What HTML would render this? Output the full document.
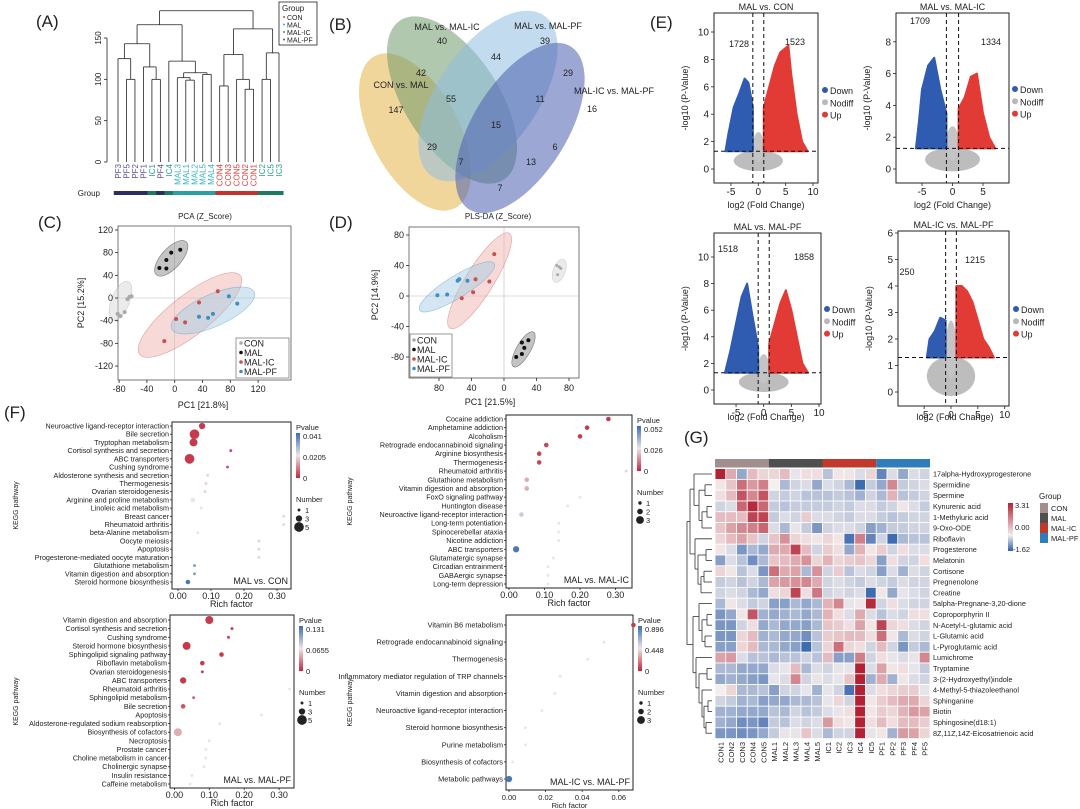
<!DOCTYPE html>
<html><head><meta charset="utf-8"><style>
body{margin:0;background:#fff;}
svg{display:block;font-family:"Liberation Sans",sans-serif;}
text{fill:#222;}
</style></head><body>
<svg id="fig" width="1080" height="809" viewBox="0 0 1080 809"></svg>
<script>
// ===== DATA =====
const dendLeaves=["PF3","PF5","PF2","PF1","IC1","PF4","IC4","MAL3","MAL1","MAL2","MAL5","MAL4","CON4","CON3","CON5","CON2","CON1","IC2","IC5","IC3"];
const pcaGroups=["CON","MAL","MAL-IC","MAL-PF"];
const pcaX=[[-82,-78,-72,-68,-65,-62],[-22,-12,-12,-5,8],[-15,2,15,35,62],[35,48,55,78,90]];
const pcaY=[[-28,-32,-25,-2,2,3],[53,52,67,80,85],[-76,-37,-43,-8,12],[-33,-35,-28,3,-10]];
const plsX=[[65,68,70,66],[15,22,25,22,30],[-52,-38,-35,-18,-12],[-82,-70,-57,-55,-45]];
const plsY=[[40,38,36,28],[-80,-76,-68,-61,-58],[-3,5,22,19,55],[1,2,20,22,20]];
const plsGroupIdx=[0,1,2,3];
const volTitles=["MAL vs. CON","MAL vs. MAL-IC","MAL vs. MAL-PF","MAL-IC vs. MAL-PF"];
const volDown=[1728,1709,1518,250];
const volUp=[1523,1334,1858,1215];
const volBlue=[
 [[-1,1.3],[-1,4.5],[-1.8,6.3],[-2.5,6.6],[-3.5,5.5],[-4.5,4.5],[-5.5,2.5],[-6,1.3]],
 [[-1,1.3],[-1,3.5],[-2,5],[-3,7],[-4,6.5],[-5,5],[-5.5,3],[-6,1.3]],
 [[-1,1.3],[-1,3.2],[-2,5.5],[-3,8],[-4,7],[-5,5],[-6,3],[-7,1.3]],
 [[-1,1.3],[-1,2.7],[-2,2.8],[-3,2.3],[-4,2],[-4.5,1.3]]];
const volRed=[
 [[1,1.3],[1,4.5],[2,6],[3,7.5],[4,8.5],[5.5,9],[6,7],[7,4],[8,2],[9,1.3]],
 [[1,1.3],[1,3.8],[2,4.5],[3,5.8],[4,6],[5,3.5],[6,2],[7,1.3]],
 [[1,1.3],[1,3.5],[2,5],[3,6.5],[4,7.5],[5,6],[6,4],[7,2],[8,1.3]],
 [[1,1.3],[1,4],[2,4],[3,3.8],[4,3.4],[5,2.7],[6,2],[7,1.7],[8,1.3]]];
const volXTicks=[[-5,0,5,10],[-5,0,5],[-5,0,5,10],[-5,0,5,10]];
const volYTicks=[[0,2,4,6,8,10],[0,2,4,6,8],[0,2,4,6,8,10],[0,1,2,3,4,5,6]];
const f1Paths=["Neuroactive ligand-receptor interaction","Bile secretion","Tryptophan metabolism","Cortisol synthesis and secretion","ABC transporters","Cushing syndrome","Aldosterone synthesis and secretion","Thermogenesis","Ovarian steroidogenesis","Arginine and proline metabolism","Linoleic acid metabolism","Breast cancer","Rheumatoid arthritis","beta-Alanine metabolism","Oocyte meiosis","Apoptosis","Progesterone-mediated oocyte maturation","Glutathione metabolism","Vitamin digestion and absorption","Steroid hormone biosynthesis"];
const f1Rich=[0.073,0.05,0.047,0.16,0.035,0.15,0.09,0.085,0.082,0.045,0.07,0.32,0.32,0.06,0.245,0.245,0.245,0.05,0.05,0.03];
const f1P=[0.05,0.05,0.05,0.1,0.05,0.1,0.45,0.45,0.45,0.5,0.5,0.55,0.55,0.5,0.55,0.55,0.55,0.8,0.8,0.95];
const f1N=[3,5,4,1,5,1,1,1,1,2,1,1,1,1,1,1,1,1,1,2];
const f2Paths=["Cocaine addiction","Amphetamine addiction","Alcoholism","Retrograde endocannabinoid signaling","Arginine biosynthesis","Thermogenesis","Rheumatoid arthritis","Glutathione metabolism","Vitamin digestion and absorption","FoxO signaling pathway","Huntington disease","Neuroactive ligand-receptor interaction","Long-term potentiation","Spinocerebellar ataxia","Nicotine addiction","ABC transporters","Glutamatergic synapse","Circadian entrainment","GABAergic synapse","Long-term depression"];
const f2Rich=[0.28,0.22,0.2,0.105,0.085,0.085,0.33,0.05,0.05,0.2,0.165,0.035,0.14,0.14,0.14,0.02,0.125,0.11,0.11,0.11];
const f2P=[0.05,0.05,0.05,0.08,0.08,0.08,0.45,0.35,0.35,0.5,0.5,0.6,0.5,0.5,0.5,0.95,0.5,0.5,0.5,0.5];
const f2N=[2,2,2,2,2,2,1,2,2,1,1,2,1,1,1,3,1,1,1,1];
const f3Paths=["Vitamin digestion and absorption","Cortisol synthesis and secretion","Cushing syndrome","Steroid hormone biosynthesis","Sphingolipid signaling pathway","Riboflavin metabolism","Ovarian steroidogenesis","ABC transporters","Rheumatoid arthritis","Sphingolipid metabolism","Bile secretion","Apoptosis","Aldosterone-regulated sodium reabsorption","Biosynthesis of cofactors","Necroptosis","Prostate cancer","Choline metabolism in cancer","Cholinergic synapse","Insulin resistance","Caffeine metabolism"];
const f3Rich=[0.1,0.165,0.155,0.035,0.135,0.08,0.08,0.025,0.33,0.055,0.025,0.25,0.13,0.01,0.1,0.09,0.09,0.085,0.05,0.045];
const f3P=[0.05,0.05,0.05,0.05,0.05,0.05,0.05,0.05,0.5,0.15,0.12,0.5,0.5,0.35,0.5,0.5,0.5,0.5,0.5,0.5];
const f3N=[4,1,1,4,2,2,1,3,1,1,2,1,1,4,1,1,1,1,1,1];
const f4Paths=["Vitamin B6 metabolism","Retrograde endocannabinoid signaling","Thermogenesis","Inflammatory mediator regulation of TRP channels","Vitamin digestion and absorption","Neuroactive ligand-receptor interaction","Steroid hormone biosynthesis","Purine metabolism","Biosynthesis of cofactors","Metabolic pathways"];
const f4Rich=[0.068,0.052,0.043,0.028,0.025,0.018,0.009,0.009,0.002,0.0];
const f4P=[0.05,0.5,0.5,0.5,0.5,0.5,0.5,0.5,0.5,0.95];
const f4N=[2,1,1,1,1,1,1,1,1,3];
const hmRows=["17alpha-Hydroxyprogesterone","Spermidine","Spermine","Kynurenic acid","1-Methyluric acid","9-Oxo-ODE","Riboflavin","Progesterone","Melatonin","Cortisone","Pregnenolone","Creatine","5alpha-Pregnane-3,20-dione","Coproporphyrin II","N-Acetyl-L-glutamic acid","L-Glutamic acid","L-Pyroglutamic acid","Lumichrome","Tryptamine","3-(2-Hydroxyethyl)indole","4-Methyl-5-thiazoleethanol","Sphinganine","Biotin","Sphingosine(d18:1)","8Z,11Z,14Z-Eicosatrienoic acid"];
const hmCols=["CON1","CON2","CON3","CON4","CON5","MAL1","MAL2","MAL3","MAL4","MAL5","IC1","IC2","IC3","IC4","IC5","PF1","PF2","PF3","PF4","PF5"];
const hmVals=[
[2.5,0.8,-0.8,0.6,0.3,0.3,0.6,-0.1,0.2,0.2,-0.5,0.1,0.1,-0.2,0.3,-1.2,-0.2,-0.8,-0.2,-0.3],
[0.1,0.5,1.5,1.0,1.3,0,-0.6,-0.3,-0.2,-0.8,-0.2,-0.3,-0.6,-1.5,-0.4,-0.8,1.2,-0.4,-0.3,-0.2],
[0.2,0.6,1.8,1.2,1.8,-0.3,-0.4,-0.3,-0.5,-0.5,-0.5,-0.4,-0.5,-0.7,-0.3,-0.6,0.7,-0.5,-0.4,-0.3],
[-0.3,-0.2,1.6,2.3,1.6,-0.4,-0.5,-0.4,-0.4,-0.4,-0.4,-0.3,-0.4,-0.2,-0.2,-0.4,-0.3,0.1,-0.2,-0.4],
[0.6,0.6,0.6,2.0,2.0,-0.4,-0.2,-0.3,0.4,-0.2,-0.2,-0.3,-0.4,-0.2,-0.2,-0.4,-0.5,-0.4,-0.3,-0.3],
[0.5,0.9,1.2,1.3,1.6,-0.2,-0.6,-0.1,-0.4,-1.0,-0.3,-0.2,-0.2,-0.3,-0.9,-0.7,-0.4,-0.4,-0.3,-0.3],
[0.3,0.6,0.9,0.5,-0.3,0.5,1.1,0.3,0.2,0.1,0.3,0.1,-1.4,1.3,-1.2,-0.3,-1.5,-0.6,-0.5,-0.5],
[0.1,-0.2,-1.0,-0.6,-0.8,0.8,0.8,2.0,0.6,-0.3,0.4,0.2,-0.8,0.7,0.1,0.4,-0.3,0.2,-0.2,-0.2],
[-0.9,-0.2,-0.5,-1.1,-0.6,0.5,0.6,0.8,1.1,0.3,0.7,0.3,0.4,0.5,0.3,-0.9,0.2,-0.3,-0.3,0.2],
[0.3,0.1,-0.5,-0.2,-1.0,1.5,0.8,0.9,-0.6,1.1,-0.3,0.4,-0.5,-0.2,-0.3,-0.9,-0.2,-0.7,-0.2,-0.3],
[-0.4,-0.3,-0.5,-0.3,-0.6,0.9,1.0,1.1,1.2,0.8,-0.3,-0.2,-0.3,-0.4,-0.2,-0.3,-0.4,-0.2,-0.3,-0.3],
[-0.3,-0.2,-0.3,-0.6,-0.8,0.2,0.3,2.0,0.2,1.4,-0.3,-0.2,-0.3,-0.2,-1.5,0.1,-0.8,-0.1,-0.2,-0.3],
[-0.6,0.1,-0.2,-0.4,-0.3,-0.9,-0.9,-0.6,-0.8,-0.6,0.7,1.2,-0.1,0.1,2.3,-0.3,0.2,-0.2,-0.3,-0.3],
[-1.0,-0.8,0.1,1.8,-0.7,-0.8,-0.7,-0.6,-0.8,-0.6,0.7,0.2,-0.2,0.8,-0.2,-0.5,-0.2,-0.3,0.2,0.2],
[-1.0,-1.0,-0.3,0.2,-0.8,-0.6,-0.8,-0.8,-0.9,-0.6,0.5,0.4,0.2,0.9,0.1,2.0,0.3,0.2,-0.2,-0.3],
[-1.0,-1.0,0.3,0.6,-0.7,-0.6,-0.8,-0.8,-1.1,-0.5,0.4,0.5,0.6,0.6,0.2,1.5,0.1,-0.6,-0.2,-0.3],
[-0.9,-0.9,0.3,0.6,-0.6,-0.6,-0.8,-0.9,-1.5,-0.5,0.3,1.5,0.3,0.2,-0.3,0.6,-0.3,-1.0,-0.4,-0.6],
[0.9,1.0,-0.2,-0.5,-0.5,-0.6,-0.5,-0.5,-0.3,-0.5,0.6,-0.9,-0.9,1.3,-0.3,0.2,-0.1,-0.2,-0.1,1.2],
[-0.6,-0.6,-0.8,-0.8,-0.8,-0.2,-0.1,0.6,-0.6,-0.2,-0.3,-0.1,-0.1,3.3,-0.2,0.9,0.1,0.2,-0.1,-0.4],
[-0.8,-0.7,-0.8,-0.9,-1.0,-0.1,-0.2,1.2,-0.3,-0.1,-0.2,-0.1,0.5,2.8,-0.7,0.8,-0.7,0.1,-0.2,-0.3],
[0.0,0.3,-0.6,-0.6,-0.5,-0.9,-0.3,-0.3,-0.1,-0.7,-0.1,-0.3,-1.4,3.0,-0.2,0.2,0.3,0.4,0.4,-0.1],
[-0.3,-0.4,-0.7,-0.6,-0.9,-0.8,-0.8,-0.6,-0.6,-0.5,-0.1,0.3,-0.3,3.1,0.1,0.4,0.6,0.8,0.8,0.3],
[-0.7,-0.7,-0.8,-0.8,-0.8,-0.5,-0.6,-0.3,-0.5,-0.4,-0.2,-0.1,0.2,3.0,0.1,0.4,0.3,0.7,1.0,0.9],
[-0.7,-0.8,-1.1,-1.0,-1.2,-0.4,-0.5,-0.2,-0.3,-0.2,1.0,0.2,0.1,3.0,0.2,0.6,0.2,0.6,0.6,0.4],
[-1.0,-1.0,-1.1,-1.0,-0.8,-0.4,-0.1,-0.1,0.5,-0.2,-0.6,-0.3,-0.3,2.6,-0.1,0.1,-0.7,1.0,0.9,0.3]];
const hmGroups=["CON","MAL","MAL-IC","MAL-PF"];

// ===== HELPERS =====
const NS="http://www.w3.org/2000/svg";
const svg=document.getElementById('fig');
function mk(tag,attrs,parent,txt){const e=document.createElementNS(NS,tag);for(const k in attrs)e.setAttribute(k,attrs[k]);if(txt!==undefined)e.textContent=txt;(parent||svg).appendChild(e);return e;}
function grp(name,parent){const g=mk('g',{},parent);


return g;}
function txt(p,x,y,s,size,anchor,extra){const t=mk('text',Object.assign({x:x,y:y,'font-size':size||9,'text-anchor':anchor||'start'},extra||{}),p,s);return t;}
function lin(p,x1,y1,x2,y2,st,w,dash){return mk('line',{x1,y1,x2,y2,stroke:st||'#222','stroke-width':w||0.8,'stroke-dasharray':dash||'none'},p);}
function lerp(a,b,t){return a.map((v,i)=>Math.round(v+(b[i]-v)*t));}
function rgb(c){return 'rgb('+c.join(',')+')';}

[["(A)",36,27],["(B)",329,30],["(C)",38,228],["(D)",329,228],["(E)",650,28],["(F)",4,418],["(G)",684,443]].forEach(l=>{
 const t=txt(svg,l[1],l[2],l[0],17);
 
 
});

// ===== (A) DENDROGRAM =====
(function(){
 const g=grp('dendrogram-panel');
 const x0=118,dx=(279-118)/19,yH=h=>162-h*124/150;
 lin(g,107,38,107,162);
 [0,50,100,150].forEach(v=>{lin(g,104,yH(v),107,yH(v));txt(g,0,0,String(v),8,'middle',{transform:`translate(101,${yH(v)}) rotate(-90)`});});
 const nodes=[];
 dendLeaves.forEach((l,i)=>nodes.push({x:x0+i*dx,h:0}));
 function join(a,b,h){lin(g,a.x,yH(a.h),a.x,yH(h));lin(g,b.x,yH(b.h),b.x,yH(h));lin(g,a.x,yH(h),b.x,yH(h));return {x:(a.x+b.x)/2,h:h};}
 const L=nodes;
 const a=join(L[1],L[2],100),b=join(L[0],a,125),c=join(L[4],L[5],100),d=join(L[3],c,115),e=join(b,d,143);
 const gg=join(L[8],L[9],99),hh=join(L[7],gg,102),ii=join(L[10],L[11],106),j=join(hh,ii,108),k=join(L[6],j,122);
 const left=join(e,k,166);
 const m=join(L[12],L[13],92),n=join(L[15],L[16],88),o=join(L[14],n,100),p=join(m,o,130);
 const q=join(L[17],L[18],100),r=join(q,L[19],132),s=join(p,r,161);
 join(left,s,183);
 const col={PF:'#5b4f9e',IC:'#239e84',MAL:'#37b3bf',CON:'#e0403a'};
 dendLeaves.forEach((l,i)=>{const key=l.replace(/\d/g,'');const t=txt(g,0,0,l,8,'end',{transform:`translate(${x0+i*dx+3},164) rotate(-90)`,style:'fill:'+col[key]});
  
  
  mk('rect',{x:x0+i*dx-dx/2,y:191,width:dx+0.3,height:4,fill:{PF:'#2c2f5e',IC:'#1f7a63',MAL:'#2aa0a6',CON:'#c4332c'}[key]},g);});
 txt(g,100,196,'Group',8,'end');
 mk('rect',{x:279,y:2,width:38,height:43,fill:'#fff',stroke:'#222','stroke-width':0.8},g);
 txt(g,282,11,'Group',8);
 ['CON','MAL','MAL-IC','MAL-PF'].forEach((s,i)=>{mk('circle',{cx:284,cy:17+i*7.5,r:1,fill:['#e0403a','#37b3bf','#239e84','#5b4f9e'][i]},g);txt(g,287,20+i*7.5,s,7);});
})();

// ===== (B) VENN =====
(function(){
 const g=grp('venn-diagram');
 const E=[[415,132,86,44,62,'#e5b54a'],[452,100,95,47,57,'#6f9a6c'],[488,96,98,50,-55,'#8fbde0'],[520,128,96,47,-58,'#4a5fb0']];
 E.forEach((e,i)=>{const el=mk('ellipse',{cx:e[0],cy:e[1],rx:e[2],ry:e[3],transform:`rotate(${e[4]} ${e[0]} ${e[1]})`,fill:e[5],'fill-opacity':0.55},g);
  
  });
 const labels=[["CON vs. MAL",401,88],["MAL vs. MAL-IC",447,30],["MAL vs. MAL-PF",548,29],["MAL-IC vs. MAL-PF",614,94]];
 labels.forEach(l=>txt(g,l[1],l[2],l[0],9,'middle'));
 [["40",442,44],["44",496,60],["42",421,76],["55",451,102],["147",396,113],["15",496,128],["29",432,150],["7",461,165],["13",531,165],["7",500,191],["39",545,44],["29",568,76],["11",540,102],["16",592,112],["6",555,150]].forEach(n=>txt(g,n[1],n[2],n[0],9,'middle'));
})();

const grpCol=['#aaaaaa','#111111','#c8514b','#3f8fc4'];
const grpFill=['#d8d8d8','#8a8a8a','#efb3b0','#a8cde6'];
// ===== (C) PCA =====
(function(){
 const g=grp('pca-panel');
 const sx=v=>174.7+v*0.695, sy=v=>298-v*0.567;
 mk('rect',{x:118,y:226,width:173,height:154,fill:'#fff',stroke:'#555','stroke-width':0.8},g);
 lin(g,118,sy(0),291,sy(0),'#bbb',0.6);lin(g,sx(0),226,sx(0),380,'#bbb',0.6);
 [[-78,-5,30,9,-68],[-5,70,32,10,-48],[22,-30,92,20,-38],[55,-22,65,16,-24]].forEach((e,i)=>{
  mk('ellipse',{cx:sx(e[0]),cy:sy(e[1]),rx:e[2]*0.695,ry:e[3],transform:`rotate(${e[4]} ${sx(e[0])} ${sy(e[1])})`,fill:grpFill[i],'fill-opacity':0.5,stroke:grpCol[i],'stroke-opacity':0.5,'stroke-width':0.6},g);});
 pcaX.forEach((xs,gi)=>xs.forEach((v,i)=>{const c=mk('circle',{cx:sx(v),cy:sy(pcaY[gi][i]),r:2,fill:grpCol[gi]},g);
  
  }));
 [-80,-40,0,40,80,120].forEach(v=>{lin(g,sx(v),380,sx(v),383);txt(g,sx(v),392,String(v),9,'middle');});
 [120,80,40,0,-40,-80,-120].forEach(v=>{lin(g,115,sy(v),118,sy(v));txt(g,113,sy(v)+3,String(v),9,'end');});
 txt(g,205,219,'PCA (Z_Score)',8,'middle');
 txt(g,0,0,'PC2 [15.2%]',9,'middle',{transform:'translate(84,303) rotate(-90)'});
 txt(g,203,408,'PC1 [21.8%]',9,'middle');
 mk('rect',{x:236,y:338,width:53,height:40,fill:'#fff',stroke:'#555','stroke-width':0.6},g);
 pcaGroups.forEach((s,i)=>{mk('circle',{cx:241,cy:343+i*9.5,r:1.8,fill:grpCol[i]},g);txt(g,244,346.5+i*9.5,s,9);});
})();
// ===== (D) PLS-DA =====
(function(){
 const g=grp('plsda-panel');
 const sx=v=>504+v*0.8125, sy=v=>296-v*0.7625;
 mk('rect',{x:409,y:227,width:170,height:151,fill:'#fff',stroke:'#555','stroke-width':0.8},g);
 lin(g,409,sy(0),579,sy(0),'#bbb',0.6);lin(g,sx(0),227,sx(0),378,'#bbb',0.6);
 [[68,33,12,6,-70],[24,-70,20,7,-60],[-30,20,56,14,-58],[-58,12,44,11,-32]].forEach((e,i)=>{
  mk('ellipse',{cx:sx(e[0]),cy:sy(e[1]),rx:e[2],ry:e[3],transform:`rotate(${e[4]} ${sx(e[0])} ${sy(e[1])})`,fill:grpFill[i],'fill-opacity':0.5,stroke:grpCol[i],'stroke-opacity':0.5,'stroke-width':0.6},g);});
 plsX.forEach((xs,gi)=>xs.forEach((v,i)=>{const c=mk('circle',{cx:sx(v),cy:sy(plsY[gi][i]),r:gi==0?1.5:2,fill:grpCol[gi]},g);
  
  }));
 [-80,-40,0,40,80].forEach(v=>{lin(g,sx(v),378,sx(v),381);txt(g,sx(v),391,String(Math.abs(v)),9,'middle');});
 [80,40,0,-40,-80].forEach(v=>{lin(g,406,sy(v),409,sy(v));txt(g,404,sy(v)+3,String(v),9,'end');});
 txt(g,498,219,'PLS-DA (Z_Score)',8,'middle');
 txt(g,0,0,'PC2 [14.9%]',9,'middle',{transform:'translate(378,295) rotate(-90)'});
 txt(g,490,405,'PC1 [21.5%]',9,'middle');
 mk('rect',{x:410,y:334,width:42,height:43,fill:'#fff',stroke:'#555','stroke-width':0.6},g);
 pcaGroups.forEach((s,i)=>{mk('circle',{cx:414,cy:340+i*9.5,r:1.8,fill:grpCol[i]},g);txt(g,417,343.5+i*9.5,s,9);});
})();

// ===== (E) VOLCANO =====
const volGeom=[
 {x0:714,x1:818,y0:13,y1:183,zx:758.3,kx:5.47,zy:169,ky:13.7,leg:[822,93],nD:[739,47],nU:[795,45]},
 {x0:896,x1:1009,y0:13,y1:183,zx:952.5,kx:6.1,zy:169,ky:15.9,leg:[1012,92],nD:[920,24],nU:[991,45]},
 {x0:714,x1:821,y0:233,y1:404,zx:763.7,kx:5.53,zy:390,ky:13.3,leg:[824,312],nD:[728,252],nU:[804,260]},
 {x0:898,x1:1009,y0:231,y1:406,zx:951,kx:5.37,zy:392,ky:26.5,leg:[1013,312],nD:[907,275],nU:[975,263]}];
volGeom.forEach((G,pi)=>{
 const g=grp('volcano-plot-'+(pi+1));
 const sx=v=>G.zx+v*G.kx, sy=v=>G.zy-v*G.ky;
 mk('rect',{x:G.x0,y:G.y0,width:G.x1-G.x0,height:G.y1-G.y0,fill:'#fff',stroke:'#222','stroke-width':1},g);
 const clip=mk('clipPath',{id:'vc'+pi},g);mk('rect',{x:G.x0,y:G.y0,width:G.x1-G.x0,height:G.y1-G.y0},clip);
 const inner=mk('g',{'clip-path':`url(#vc${pi})`},g);
 mk('ellipse',{cx:sx(0),cy:sy(0.6),rx:4.5*G.kx,ry:0.75*G.ky,fill:'#bdbdbd'},inner);
 mk('ellipse',{cx:sx(0),cy:sy(1.6),rx:1.0*G.kx,ry:1.1*G.ky,fill:'#c4c4c4'},inner);
 const poly=(pts,c)=>mk('polygon',{points:pts.map(p=>sx(p[0])+','+sy(p[1])).join(' '),fill:c,stroke:c,'stroke-width':2,'stroke-linejoin':'round'},inner);
 const pb=poly(volBlue[pi],'#2f5bb0');
 
 
 const pr=poly(volRed[pi],'#e23a35');
 
 
 lin(inner,sx(-1),G.y0,sx(-1),G.y1,'#111',1,'4,3');lin(inner,sx(1),G.y0,sx(1),G.y1,'#111',1,'4,3');
 lin(inner,G.x0,sy(1.3),G.x1,sy(1.3),'#111',1,'4,3');
 volXTicks[pi].forEach(v=>{lin(g,sx(v),G.y1,sx(v),G.y1+3);txt(g,sx(v),G.y1+12,String(v),10,'middle');});
 volYTicks[pi].forEach(v=>{lin(g,G.x0-3,sy(v),G.x0,sy(v));txt(g,G.x0-5,sy(v)+3.5,String(v),10,'end');});
 txt(g,(G.x0+G.x1)/2,G.y0-3,volTitles[pi],9,'middle');
 if(pi<2)txt(g,(G.x0+G.x1)/2,G.y1+25,'log2 (Fold Change)',9,'middle');
 txt(g,0,0,'-log10 (P-Value)',9,'middle',{transform:`translate(${G.x0-26},${(G.y0+G.y1)/2}) rotate(-90)`});
 txt(g,G.nD[0],G.nD[1],String(volDown[pi]),9,'middle');
 txt(g,G.nU[0],G.nU[1],String(volUp[pi]),9,'middle');
 ['Down','Nodiff','Up'].forEach((s,i)=>{mk('circle',{cx:G.leg[0]+3,cy:G.leg[1]+i*12.3-3,r:3,fill:['#2f5bb0','#b9b9b9','#e23a35'][i]},g);txt(g,G.leg[0]+8,G.leg[1]+i*12.3+1,s,9);});
});
txt(svg,766,420,'log2 (Fold Change)',9,'middle');
txt(svg,955,420,'log2 (Fold Change)',9,'middle');

// ===== (F) BUBBLES =====
const red=[192,40,60],wht=[238,228,232],blu=[58,109,176];
function pcol(t){return t<0.5?rgb(lerp(red,wht,t*2)):rgb(lerp(wht,blu,(t-0.5)*2));}
function bubble(name,paths,rich,pv,num,B){
 const g=grp(name);
 mk('rect',{x:B.x0,y:B.y0,width:B.x1-B.x0,height:B.y1-B.y0,fill:'#fff',stroke:'#222','stroke-width':1},g);
 const sx=v=>B.zx+v*B.kx, n=paths.length, sy=i=>B.r0+i*(B.r1-B.r0)/(n-1);
 paths.forEach((p,i)=>{lin(g,B.x0-2,sy(i),B.x0,sy(i));const t=txt(g,B.x0-3,sy(i)+2.5,p,B.fs||7.2,'end');
  
  
  const c=mk('circle',{cx:sx(rich[i]),cy:sy(i),r:0.6+num[i]*0.85,fill:pcol(pv[i])},g);
  
  });
 B.ticks.forEach(v=>{lin(g,sx(v),B.y1,sx(v),B.y1+2);txt(g,sx(v),B.y1+10,v.toFixed(2),B.tfs||9,'middle');});
 txt(g,(B.x0+B.x1)/2,B.y1+18,'Rich factor',B.tfs||9,'middle');
 txt(g,B.x1-3,B.y1-5,B.title,9,'end');
 txt(g,0,0,'KEGG pathway',7,'middle',{transform:`translate(${B.ky},${(B.y0+B.y1)/2}) rotate(-90)`});
 const lx=B.x1+5;
 txt(g,lx,B.y0+8,'Pvalue',7.5);
 const gid='gr'+name;const lg=mk('linearGradient',{id:gid,x1:0,y1:0,x2:0,y2:1},g);
 mk('stop',{offset:'0',"stop-color":rgb(blu)},lg);mk('stop',{offset:'0.5',"stop-color":rgb(wht)},lg);mk('stop',{offset:'1',"stop-color":rgb(red)},lg);
 mk('rect',{x:lx,y:B.y0+11,width:4,height:45,fill:`url(#${gid})`},g);
 B.leg.forEach((s,i)=>txt(g,lx+7,B.y0+17+i*21,s,7.5));
 txt(g,lx,B.y0+80,'Number',7.5);
 B.nleg.forEach((s,i)=>{mk('circle',{cx:lx+3,cy:B.y0+88+i*8.5,r:0.6+Number(s)*0.85*(B.nleg.length==3&&B.nleg[2]=='3'?1.3:1),fill:'#222'},g);txt(g,lx+9,B.y0+91+i*8.5,s,7.5);});
}
bubble('kegg-mal-vs-con',f1Paths,f1Rich,f1P,f1N,{x0:172,x1:291,y0:422,y1:589,r0:426,r1:582,zx:178,kx:330,ticks:[0,0.1,0.2,0.3],title:'MAL vs. CON',ky:18,leg:['0.041','0.0205','0'],nleg:['1','3','5']});
bubble('kegg-mal-vs-malic',f2Paths,f2Rich,f2P,f2N,{x0:506,x1:632,y0:415,y1:588,r0:419,r1:584,zx:509,kx:355,ticks:[0,0.1,0.2,0.3],title:'MAL vs. MAL-IC',ky:352,leg:['0.052','0.026','0'],nleg:['1','2','3']});
bubble('kegg-mal-vs-malpf',f3Paths,f3Rich,f3P,f3N,{x0:170,x1:294,y0:615,y1:788,r0:620,r1:784,zx:174.4,kx:349,ticks:[0,0.1,0.2,0.3],title:'MAL vs. MAL-PF',ky:18,leg:['0.131','0.0655','0'],nleg:['1','3','5']});
bubble('kegg-malic-vs-malpf',f4Paths,f4Rich,f4P,f4N,{x0:506,x1:633,y0:615,y1:790,r0:625,r1:779,zx:509,kx:1830,ticks:[0,0.02,0.04,0.06],title:'MAL-IC vs. MAL-PF',ky:352,fs:7.4,tfs:7.5,leg:['0.896','0.448','0'],nleg:['1','2','3']});

// ===== (G) HEATMAP =====
(function(){
 const g=grp('heatmap-panel');
 const x0=715,cw=(930-715)/20,y0=468.6,rh=10.8;
 const blue=[49,96,170],white=[244,238,238],redc=[178,34,52];
 const hc=v=>v<0?rgb(lerp(white,blue,Math.min(1,v/-1.62))):rgb(lerp(white,redc,Math.min(1,v/2.4)));
 const gc=['#a28e8c','#4f4f4f','#c0392b','#2e7dbd'];
 hmGroups.forEach((s,i)=>mk('rect',{x:x0+i*5*cw,y:459,width:5*cw,height:8.5,fill:gc[i]},g));
 hmVals.forEach((row,r)=>row.forEach((v,c)=>{const el=mk('rect',{x:x0+c*cw,y:y0+r*rh,width:cw,height:rh,fill:hc(v),stroke:'#fff','stroke-width':0.8},g);
  
  }));
 hmRows.forEach((s,r)=>txt(g,933,y0+r*rh+8,s,7.3));
 hmCols.forEach((s,c)=>txt(g,0,0,s,7.5,'end',{transform:`translate(${x0+c*cw+cw/2+3},742) rotate(-90)`}));
 const rx=i=>y0+i*rh+rh/2;
 const seg=[[712,rx(1),705,rx(1)],[712,rx(2),705,rx(2)],[705,rx(1),705,rx(2)],[712,rx(3),707,rx(3)],[712,rx(4),707,rx(4)],[707,rx(3),707,rx(4)],[707,rx(3.5),702,rx(3.5)],[712,rx(5),702,rx(5)],[702,rx(3.5),702,rx(5)],[705,rx(1.5),699,rx(1.5)],[702,rx(4.3),699,rx(4.3)],[699,rx(1.5),699,rx(4.3)],
 [712,rx(0),694,rx(0)],[699,rx(2.9),694,rx(2.9)],[694,rx(0),694,rx(2.9)],
 [712,rx(7),706,rx(7)],[712,rx(8),706,rx(8)],[706,rx(7),706,rx(8)],[712,rx(9),704,rx(9)],[712,rx(10),704,rx(10)],[704,rx(9),704,rx(10)],[712,rx(11),701,rx(11)],[704,rx(9.5),701,rx(9.5)],[701,rx(9.5),701,rx(11)],[706,rx(7.5),698,rx(7.5)],[701,rx(10.2),698,rx(10.2)],[698,rx(7.5),698,rx(10.2)],[712,rx(6),695,rx(6)],[698,rx(8.8),695,rx(8.8)],[695,rx(6),695,rx(8.8)],
 [694,rx(1.4),690,rx(1.4)],[695,rx(7.4),690,rx(7.4)],[690,rx(1.4),690,rx(7.4)],
 [712,rx(13),707,rx(13)],[712,rx(14),707,rx(14)],[707,rx(13),707,rx(14)],[712,rx(15),705,rx(15)],[712,rx(16),705,rx(16)],[705,rx(15),705,rx(16)],[707,rx(13.5),702,rx(13.5)],[705,rx(15.5),702,rx(15.5)],[702,rx(13.5),702,rx(15.5)],[712,rx(12),699,rx(12)],[702,rx(14.5),699,rx(14.5)],[699,rx(12),699,rx(14.5)],
 [712,rx(18),707,rx(18)],[712,rx(19),707,rx(19)],[707,rx(18),707,rx(19)],[712,rx(21),708,rx(21)],[712,rx(22),708,rx(22)],[708,rx(21),708,rx(22)],[712,rx(23),706,rx(23)],[712,rx(24),706,rx(24)],[706,rx(23),706,rx(24)],[708,rx(21.5),704,rx(21.5)],[706,rx(23.5),704,rx(23.5)],[704,rx(21.5),704,rx(23.5)],[712,rx(20),702,rx(20)],[704,rx(22.5),702,rx(22.5)],[702,rx(20),702,rx(22.5)],[707,rx(18.5),699,rx(18.5)],[702,rx(21.2),699,rx(21.2)],[699,rx(18.5),699,rx(21.2)],[712,rx(17),696,rx(17)],[699,rx(19.8),696,rx(19.8)],[696,rx(17),696,rx(19.8)],[699,rx(13.2),693,rx(13.2)],[696,rx(18.4),693,rx(18.4)],[693,rx(13.2),693,rx(18.4)],
 [690,rx(4.4),687,rx(4.4)],[693,rx(15.8),687,rx(15.8)],[687,rx(4.4),687,rx(15.8)]];
 seg.forEach(s=>lin(g,s[0],s[1],s[2],s[3],'#333',0.8));
 const gr=mk('linearGradient',{id:'hmgrad',x1:0,y1:0,x2:0,y2:1},g);
 mk('stop',{offset:'0','stop-color':rgb(redc)},gr);mk('stop',{offset:'0.67','stop-color':rgb(white)},gr);mk('stop',{offset:'1','stop-color':rgb(blue)},gr);
 mk('rect',{x:1008,y:503,width:5,height:48,fill:'url(#hmgrad)'},g);
 txt(g,1015,508,'3.31',7.5);txt(g,1015,530,'0.00',7.5);txt(g,1013,552,'-1.62',7.5);
 txt(g,1039,499,'Group',8);
 hmGroups.forEach((s,i)=>{mk('rect',{x:1040,y:503+i*10,width:8,height:10,fill:gc[i]},g);txt(g,1051,511+i*10,s,7.5);});
})();
</script>
</body></html>
